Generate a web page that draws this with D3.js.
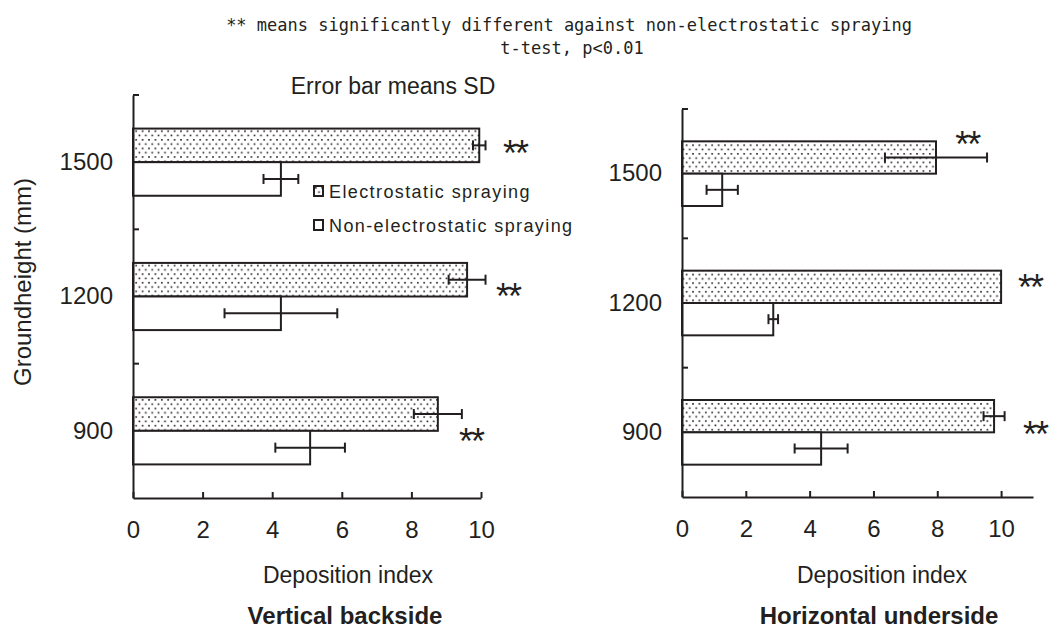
<!DOCTYPE html>
<html>
<head>
<meta charset="utf-8">
<script src="https://cdn.jsdelivr.net/npm/d3@7"></script>
<style>
  body { margin: 0; background: #fff; }
  text { fill: #231f20; font-family: "Liberation Sans", Arial, sans-serif; }
</style>
</head>
<body>
<div id="chart"></div>
<script>
// heights (mm) and the two spraying methods
const categories = ["1500", "1200", "900"];
const seriesNames = ["Electrostatic spraying", "Non-electrostatic spraying"];

// Vertical backside: mean and SD of deposition index
const vbElectro = [9.95, 9.6, 8.76];
const vbElectroSD = [0.18, 0.53, 0.69];
const vbNon = [4.25, 4.25, 5.09];
const vbNonSD = [0.5, 1.62, 1.0];

// Horizontal underside
const huElectro = [7.96, 10.0, 9.78];
const huElectroSD = [1.6, 0, 0.33];
const huNon = [1.26, 2.86, 4.36];
const huNonSD = [0.49, 0.15, 0.83];

const xTicks = [0, 2, 4, 6, 8, 10];

// where the "**" marks sit, in deposition index units
const vbStars = [10.63, 10.43, 9.37];
const huStars = [8.56, 10.53, 10.69];

const ink = "#231f20";
const width = 1050, height = 634;

const svg = d3.select("#chart").append("svg")
    .attr("width", width)
    .attr("height", height);

// staggered dot screen for the electrostatic bars
const defs = svg.append("defs");
const dots = defs.append("pattern")
    .attr("id", "dots")
    .attr("patternUnits", "userSpaceOnUse")
    .attr("width", 6.4)
    .attr("height", 8.6);
dots.append("rect").attr("width", 6.4).attr("height", 8.6).attr("fill", "#fff");
dots.append("rect").attr("x", 1).attr("y", 1).attr("width", 1.6).attr("height", 1.6).attr("fill", ink);
dots.append("rect").attr("x", 4.2).attr("y", 5.3).attr("width", 1.6).attr("height", 1.6).attr("fill", ink);

// header notes
const title = svg.append("g");
title.append("text").attr("x", 569).attr("y", 31).attr("text-anchor", "middle")
    .style("font-family", "'DejaVu Sans Mono', monospace")
    .style("font-size", "17px")
    .text("** means significantly different against non-electrostatic spraying");
title.append("text").attr("x", 572).attr("y", 54).attr("text-anchor", "middle")
    .style("font-family", "'DejaVu Sans Mono', monospace")
    .style("font-size", "17px")
    .text("t-test, p<0.01");

svg.append("text").attr("x", 393).attr("y", 94).attr("text-anchor", "middle")
    .style("font-size", "23px")
    .text("Error bar means SD");

function drawPanel(opt) {
    const g = svg.append("g");
    const x = d3.scaleLinear().domain([0, opt.xMax]).range([opt.left, opt.right]);
    const y = d3.scaleBand().domain(categories).range([opt.top, opt.bottom]).padding(0);
    const sub = d3.scaleBand().domain(seriesNames)
        .range([y.bandwidth() * 0.25, y.bandwidth() * 0.75]).padding(0);

    const rows = categories.map((c, i) => ({
        cat: c,
        bars: [
            { s: seriesNames[0], v: opt.electro[i], sd: opt.electroSD[i] },
            { s: seriesNames[1], v: opt.non[i], sd: opt.nonSD[i] }
        ],
        star: opt.stars[i],
        starDy: opt.starDy[i]
    }));

    const row = g.selectAll(".row").data(rows).enter().append("g")
        .attr("transform", d => `translate(0,${y(d.cat)})`);

    row.selectAll("rect").data(d => d.bars).enter().append("rect")
        .attr("x", x(0))
        .attr("y", d => sub(d.s))
        .attr("width", d => x(d.v) - x(0))
        .attr("height", sub.bandwidth())
        .attr("fill", d => d.s === seriesNames[0] ? "url(#dots)" : "#fff")
        .attr("stroke", ink)
        .attr("stroke-width", 2);

    // error bars (none drawn when SD is zero)
    const err = row.selectAll(".err").data(d => d.bars.filter(b => b.sd > 0)).enter().append("g")
        .attr("transform", d => `translate(0,${sub(d.s) + sub.bandwidth() / 2})`)
        .attr("stroke", ink)
        .attr("stroke-width", 2);
    err.append("line")
        .attr("x1", d => x(d.v - d.sd)).attr("x2", d => x(d.v + d.sd));
    err.append("line")
        .attr("x1", d => x(d.v - d.sd)).attr("x2", d => x(d.v - d.sd))
        .attr("y1", -5).attr("y2", 5);
    err.append("line")
        .attr("x1", d => x(d.v + d.sd)).attr("x2", d => x(d.v + d.sd))
        .attr("y1", -5).attr("y2", 5);

    row.append("text")
        .attr("x", d => x(d.star))
        .attr("y", d => y.bandwidth() / 2 + d.starDy + 16)
        .style("font-size", "36px")
        .style("letter-spacing", "-2px")
        .text("**");

    // x axis, ticks point inward
    const xAxis = g.append("g")
        .attr("transform", `translate(0,${opt.bottom})`)
        .call(d3.axisBottom(x).tickValues(xTicks).tickSize(-6).tickSizeOuter(0).tickPadding(23));
    xAxis.select(".domain").attr("stroke", ink).attr("stroke-width", 2);
    xAxis.selectAll(".tick line").attr("stroke", ink).attr("stroke-width", 2);
    xAxis.selectAll(".tick text")
        .attr("font-family", null).attr("font-size", null)
        .style("font-size", "24px");

    // y axis, labels at band centres and ticks at band edges
    const yAxis = g.append("g")
        .attr("transform", `translate(${opt.left},0)`)
        .call(d3.axisLeft(y).tickSize(0).tickSizeOuter(0).tickPadding(20));
    yAxis.select(".domain").attr("stroke", ink).attr("stroke-width", 2);
    yAxis.selectAll(".tick text")
        .attr("font-family", null).attr("font-size", null)
        .style("font-size", "24px");
    yAxis.selectAll(".edge").data(categories).enter().append("line")
        .attr("x1", 0).attr("x2", 6)
        .attr("y1", d => y(d)).attr("y2", d => y(d))
        .attr("stroke", ink).attr("stroke-width", 2);

    g.append("text")
        .attr("x", opt.labelX).attr("y", 583).attr("text-anchor", "middle")
        .style("font-size", "23px")
        .text("Deposition index");
    g.append("text")
        .attr("x", opt.labelX - 3).attr("y", 624).attr("text-anchor", "middle")
        .style("font-size", "24px").style("font-weight", "bold")
        .text(opt.name);
    return { x, y };
}

drawPanel({
    name: "Vertical backside",
    left: 133, right: 481, xMax: 10, top: 95, bottom: 498,
    electro: vbElectro, electroSD: vbElectroSD, non: vbNon, nonSD: vbNonSD,
    stars: vbStars, starDy: [-12, -3, 7], labelX: 348
});

drawPanel({
    name: "Horizontal underside",
    left: 682, right: 1033, xMax: 11, top: 109, bottom: 497,
    electro: huElectro, electroSD: huElectroSD, non: huNon, nonSD: huNonSD,
    stars: huStars, starDy: [-33, -19, -1], labelX: 882
});

svg.append("text")
    .attr("transform", "translate(31,282) rotate(-90)")
    .attr("text-anchor", "middle")
    .style("font-size", "24px")
    .text("Groundheight (mm)");

// legend
const legend = svg.append("g");
const legendRows = legend.selectAll("g").data(seriesNames).enter().append("g")
    .attr("transform", (d, i) => `translate(314,${186 + i * 34})`);
legendRows.append("rect")
    .attr("width", 9).attr("height", 10)
    .attr("fill", (d, i) => i === 0 ? "url(#dots)" : "#fff")
    .attr("stroke", ink).attr("stroke-width", 2);
legendRows.append("text")
    .attr("x", 15).attr("y", 12)
    .style("font-size", "18px")
    .style("letter-spacing", "1.4px")
    .text(d => d);
</script>
</body>
</html>
